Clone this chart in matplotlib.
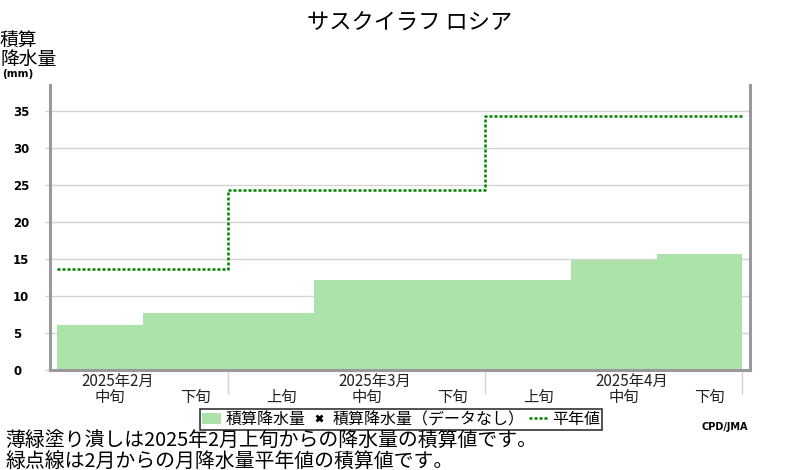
import numpy as np
import matplotlib
matplotlib.use("Agg")
import matplotlib.pyplot as plt
from matplotlib.patches import Patch
from matplotlib.lines import Line2D

plt.rcParams['font.family'] = ['Noto Sans CJK JP', 'DejaVu Sans']

TITLE = "サスクイラフ ロシア"
MONTHS = ["2025年2月", "2025年3月", "2025年4月"]
DEKADS = ["中旬", "下旬", "上旬", "中旬", "下旬", "上旬", "中旬", "下旬"]
# accumulated precipitation per dekad (mm), starting at Feb 中旬
PRECIP_CUM = [6.1, 7.7, 7.7, 12.1, 12.1, 12.1, 14.9, 15.7]
# accumulated monthly normal (mm): Feb, Mar, Apr
NORMAL_CUM = [13.7, 24.3, 34.3]
YTICKS = [0, 5, 10, 15, 20, 25, 30, 35]

LEGEND_LABELS = ["積算降水量", "積算降水量（データなし）", "平年値"]
NOTE1 = "薄緑塗り潰しは2025年2月上旬からの降水量の積算値です。"
NOTE2 = "緑点線は2月からの月降水量平年値の積算値です。"

FILL = "#abe3aa"
GREEN = "#008000"
AXGRAY = "#999999"
GRID = "#d3d3d3"

W, H = 800, 470
fig = plt.figure(figsize=(W / 100, H / 100), dpi=100)
ax = fig.add_axes([50 / W, 100 / H, 700 / W, 285 / H])

# x in dekad units, 0 = start of Feb 上旬
first = 1
starts = np.arange(first, first + len(PRECIP_CUM))
ax.bar(starts, PRECIP_CUM, width=1.0, align="edge", color=FILL,
       edgecolor="none", zorder=2)

month_starts = np.arange(len(MONTHS)) * 3
step_x = np.concatenate([[first], month_starts[1:], [month_starts[-1] + 3]])
step_y = NORMAL_CUM + [NORMAL_CUM[-1]]
ax.step(step_x, step_y, where="post", color=GREEN, lw=1.8,
        ls=(0, (1.2, 0.8)), zorder=3)

ax.set_xlim(0.918, 9.09)
ax.set_ylim(0, 38.5)

for s in ("left", "bottom", "right"):
    ax.spines[s].set_color(AXGRAY)
    ax.spines[s].set_linewidth(2.2)
ax.spines["top"].set_visible(False)

ax.set_axisbelow(True)
ax.yaxis.grid(True, color=GRID, lw=1)
ax.set_yticks(YTICKS)
ax.set_yticklabels([str(v) for v in YTICKS], ha="left",
                   fontfamily="DejaVu Sans", fontweight="bold", fontsize=8.5)
ax.tick_params(axis="y", length=3.6, width=1, color=GRID, pad=23)

ax.set_xticks(month_starts[1:].tolist() + [month_starts[-1] + 3])
ax.set_xticklabels([])
ax.tick_params(axis="x", length=17, width=1, color=GRID)

tr = ax.get_xaxis_transform()
for i, lab in enumerate(DEKADS):
    ax.text(starts[i] + 0.62, -0.097, lab, transform=tr, ha="center",
            va="center", fontsize=11, color="#222222")
for i, lab in enumerate(MONTHS):
    ax.text(month_starts[i] + 1.71, -0.040, lab, transform=tr, ha="center",
            va="center", fontsize=11, color="#222222")

# titles and y label
fig.text(410 / W, 1 - 23 / H, TITLE, ha="center", va="center", fontsize=16)
fig.text(0, 1 - 40 / H, "積算", ha="left", va="center", fontsize=13.5)
fig.text(0, 1 - 59.5 / H, "降水量", ha="left", va="center", fontsize=13.5)
fig.text(2 / W, 1 - 74 / H, "(mm)", ha="left", va="center", fontsize=7.5,
         fontfamily="DejaVu Sans", fontweight="bold")

handles = [
    Patch(facecolor=FILL, edgecolor="none"),
    Line2D([], [], marker="x", color="black", ls="none", markersize=5, mew=2),
    Line2D([], [], color=GREEN, lw=1.8, ls=(0, (1.2, 0.8))),
]
leg = fig.legend(handles, LEGEND_LABELS, ncol=3, loc="center",
                 bbox_to_anchor=(401 / W, 1 - 419.5 / H), frameon=True,
                 fancybox=False, edgecolor="black", fontsize=11.5,
                 handlelength=1.2, handletextpad=0.25, columnspacing=0.25,
                 borderpad=0.12, borderaxespad=0)
leg.get_frame().set_linewidth(1.2)

fig.text(748 / W, 1 - 427 / H, "CPD/JMA", ha="right", va="center",
         fontsize=7, fontfamily="DejaVu Sans", fontweight="bold")
fig.text(5 / W, 1 - 441 / H, NOTE1, ha="left", va="center", fontsize=14.3)
fig.text(5 / W, 1 - 461 / H, NOTE2, ha="left", va="center", fontsize=14.3)

fig.savefig("out.png", dpi=100)
